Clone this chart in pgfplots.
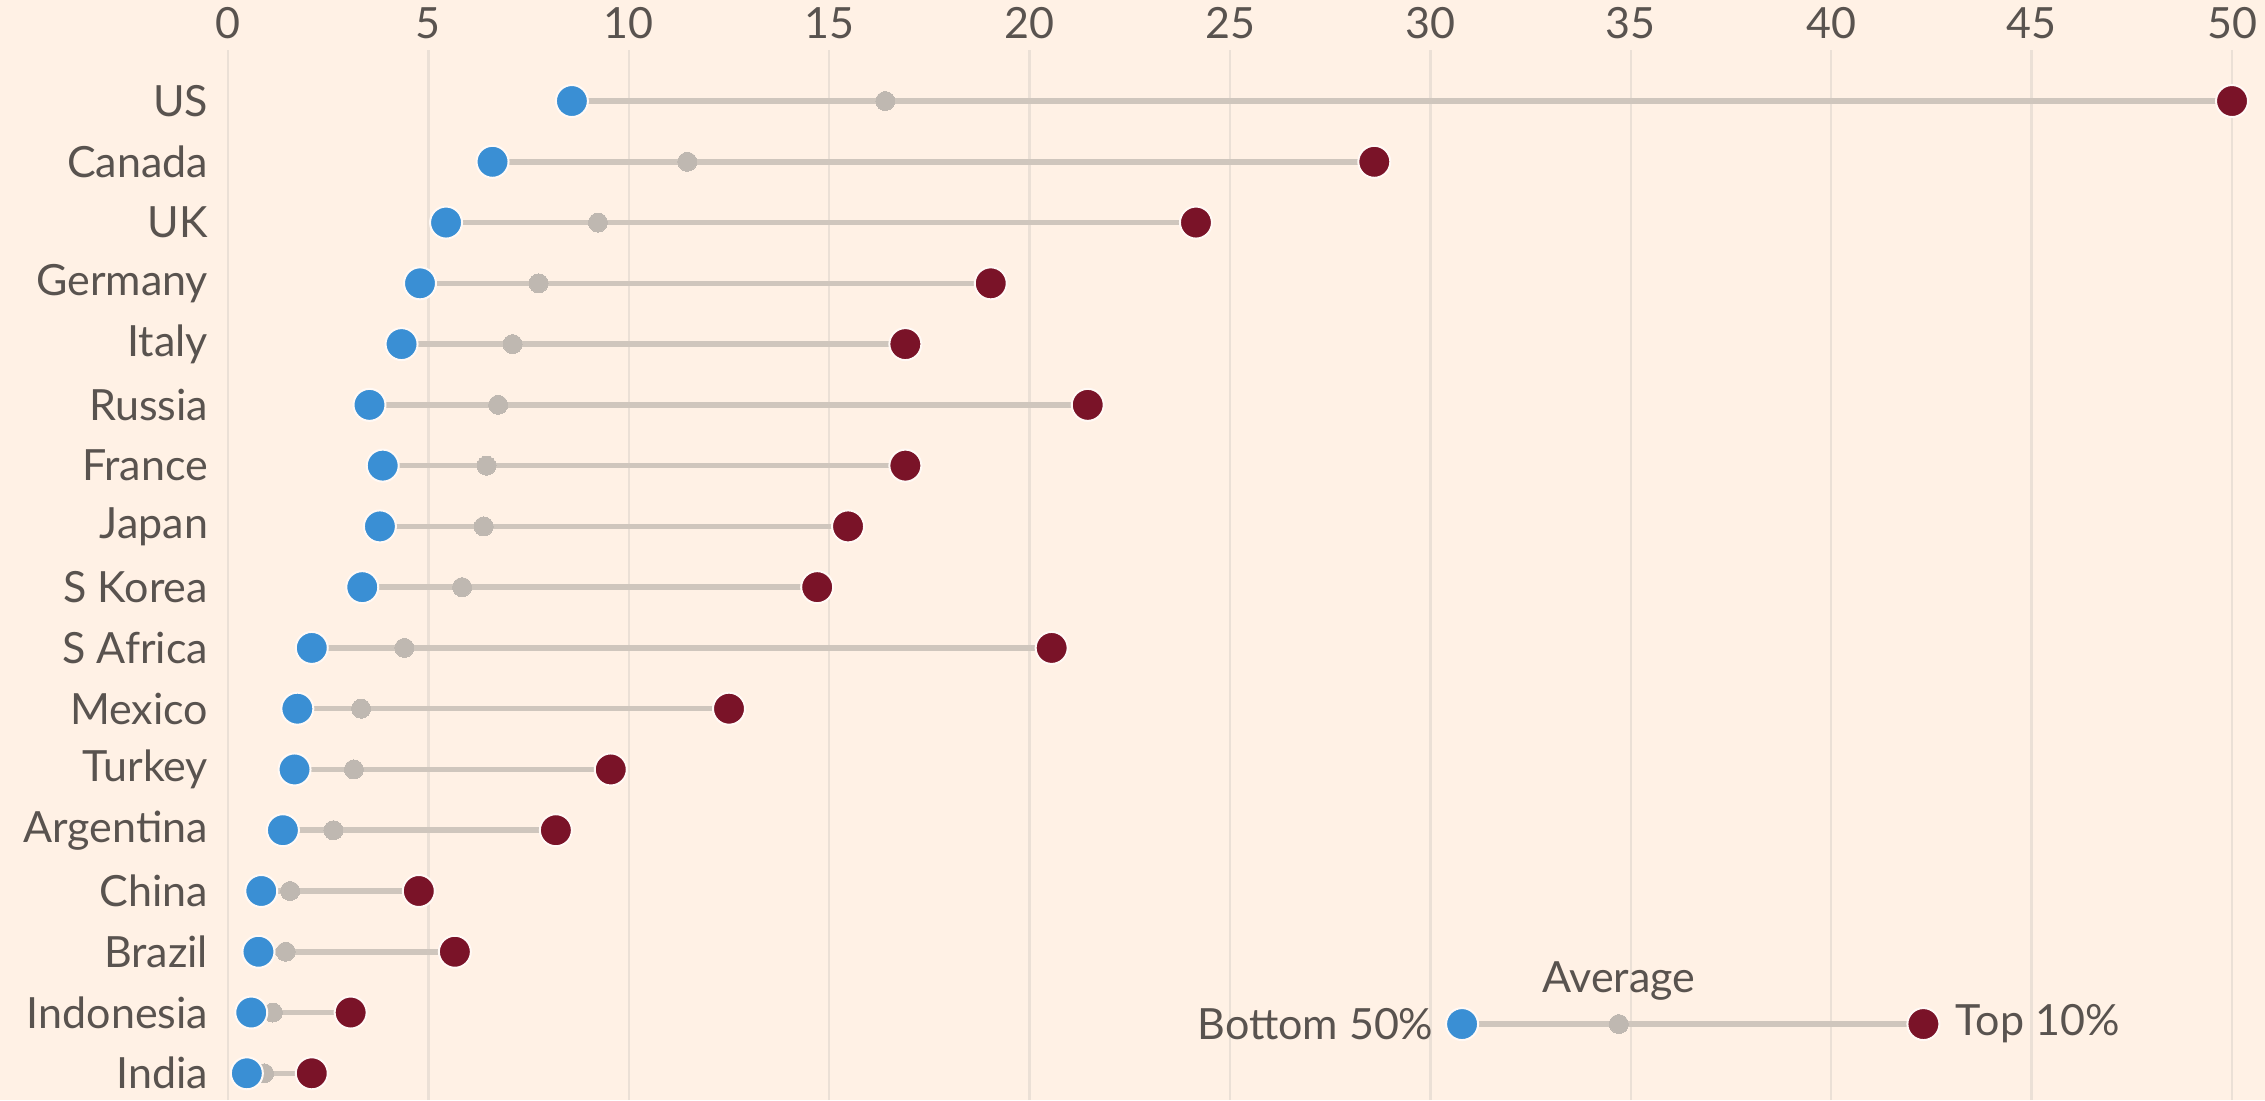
\documentclass[border=0pt]{standalone}
\usepackage{pgfplots}
\pgfplotsset{compat=1.18}
\usepackage{pgfplotstable}
\usepackage{fontspec}
\setmainfont{Lato}
\usetikzlibrary{backgrounds,calc}
\definecolor{bg}{HTML}{FFF1E5}
\definecolor{gridc}{HTML}{EBE0D6}
\definecolor{conn}{HTML}{CFC6BD}
\definecolor{avgc}{HTML}{BFB8B1}
\definecolor{bluec}{HTML}{3A8FD4}
\definecolor{redc}{HTML}{7A1328}
\definecolor{txt}{HTML}{59534F}

\pgfplotstableread{
y bot avg top
16 8.58 16.40 50.00
15 6.60 11.46 28.60
14 5.44 9.23 24.15
13 4.79 7.75 19.03
12 4.33 7.10 16.90
11 3.53 6.74 21.45
10 3.86 6.45 16.90
9 3.79 6.38 15.47
8 3.35 5.84 14.70
7 2.09 4.40 20.55
6 1.73 3.32 12.50
5 1.66 3.14 9.55
4 1.37 2.63 8.18
3 0.83 1.55 4.76
2 0.76 1.44 5.66
1 0.58 1.12 3.06
0 0.47 0.90 2.09
}\data

\begin{document}
\begin{tikzpicture}
\begin{axis}[
  scale only axis, width=400.8pt, height=210pt,
  xmin=0, xmax=50, ymin=-0.44, ymax=16.84,
  axis line style={draw=none},
  xtick={0,5,...,50}, xticklabel pos=upper,
  ytick={0,...,16},
  yticklabels={India,Indonesia,Brazil,China,Argentina,Turkey,Mexico,S Africa,S Korea,Japan,France,Russia,Italy,Germany,UK,Canada,US},
  major tick length=0pt,
  xmajorgrids, ymajorgrids=false,
  grid style={draw=gridc, line width=0.5pt},
  tick label style={font=\fontsize{8.6}{10}\selectfont, text=txt},
  xticklabel style={anchor=south, inner sep=0pt, yshift=2pt},
  yticklabel style={anchor=east, inner sep=0pt, xshift=-3.8pt},
  clip=false,
  /pgf/number format/assume math mode=true,
]
\addplot[conn, only marks, mark=none, error bars/.cd, x dir=plus, x explicit, error mark=none,
  error bar style={draw=conn, line width=1.1pt}]
  table[x=bot, y=y, x error expr=\thisrow{top}-\thisrow{bot}] {\data};
\addplot[avgc, only marks, mark=*, mark size=1.9pt, mark options={fill=avgc, draw=avgc, line width=0pt}] table[x=avg, y=y] {\data};
\addplot[bluec, only marks, mark=*, mark size=3.2pt, mark options={fill=bluec, draw=white!60!bg, line width=0.4pt}] table[x=bot, y=y] {\data};
\addplot[redc, only marks, mark=*, mark size=3.2pt, mark options={fill=redc, draw=white!60!bg, line width=0.4pt}] table[x=top, y=y] {\data};
% legend
\addplot[conn, line width=1.1pt, mark=none] coordinates {(30.79,0.81) (42.3,0.81)};
\addplot[avgc, only marks, mark=*, mark size=1.9pt, mark options={fill=avgc, draw=avgc, line width=0pt}] coordinates {(34.7,0.81)};
\addplot[bluec, only marks, mark=*, mark size=3.2pt, mark options={fill=bluec, draw=white!60!bg, line width=0.4pt}] coordinates {(30.79,0.81)};
\addplot[redc, only marks, mark=*, mark size=3.2pt, mark options={fill=redc, draw=white!60!bg, line width=0.4pt}] coordinates {(42.3,0.81)};
\node[anchor=east, inner sep=0pt, text=txt, font=\fontsize{8.6}{10}\selectfont] at (axis cs:30.1,0.81) {Bottom 50\%};
\node[anchor=west, inner sep=0pt, text=txt, font=\fontsize{8.6}{10}\selectfont] at (axis cs:43.08,0.81) {Top 10\%};
\node[inner sep=0pt, text=txt, font=\fontsize{8.6}{10}\selectfont] at (axis cs:34.7,1.52) {Average};
\end{axis}
\pgfresetboundingbox
\path[use as bounding box] ($(current axis.south west)+(-45.6pt,0)$) rectangle ($(current axis.north east)+(6.6pt,10pt)$);
\begin{pgfonlayer}{background}
\fill[bg] ($(current axis.south west)+(-45.6pt,0)$) rectangle ($(current axis.north east)+(6.6pt,10pt)$);
\end{pgfonlayer}
\end{tikzpicture}
\end{document}
